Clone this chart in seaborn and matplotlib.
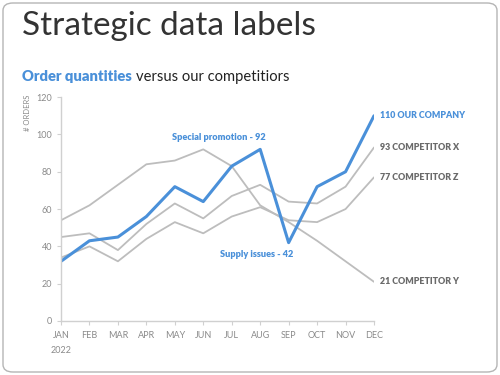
import pandas as pd
import matplotlib.pyplot as plt
import seaborn as sns
from matplotlib.patches import FancyBboxPatch

months = ["JAN", "FEB", "MAR", "APR", "MAY", "JUN", "JUL", "AUG", "SEP", "OCT", "NOV", "DEC"]
our_company = [32, 43, 45, 56, 72, 64, 83, 92, 42, 72, 80, 110]
competitor_x = [45, 47, 38, 52, 63, 55, 67, 73, 64, 63, 72, 93]
competitor_y = [54, 62, 73, 84, 86, 92, 83, 62, 53, 43, 32, 21]
competitor_z = [34, 40, 32, 44, 53, 47, 56, 61, 54, 53, 60, 77]
series_names = ["OUR COMPANY", "COMPETITOR X", "COMPETITOR Y", "COMPETITOR Z"]

BLUE = "#4a90d9"
GREY = "#bdbdbd"
LABEL_GREY = "#6a6a6a"

sns.set_style("white")
plt.rcParams["font.family"] = ["Lato", "DejaVu Sans"]

# long-form table for seaborn
rows = []
for name, vals in zip(series_names, [our_company, competitor_x, competitor_y, competitor_z]):
    for i, v in enumerate(vals):
        rows.append({"idx": i, "orders": v, "series": name})
df = pd.DataFrame(rows)

fig = plt.figure(figsize=(5, 3.75), dpi=100)
ax = fig.add_axes([0.122, 0.144, 0.626, 0.597])

# grey competitors first, blue on top
sns.lineplot(data=df[df.series != "OUR COMPANY"], x="idx", y="orders", hue="series",
             palette={n: GREY for n in series_names[1:]}, linewidth=1.3,
             legend=False, ax=ax)
sns.lineplot(data=df[df.series == "OUR COMPANY"], x="idx", y="orders",
             color=BLUE, linewidth=2.2, legend=False, ax=ax)

ax.set_xlim(0, 11)
ax.set_ylim(0, 120)
ax.set_yticks(range(0, 121, 20))
ax.set_xticks(range(12))
ax.set_xticklabels(months)
ax.set_xlabel("")
ax.set_ylabel("")
for s in ["top", "right"]:
    ax.spines[s].set_visible(False)
for s in ["left", "bottom"]:
    ax.spines[s].set_color("#d0d0d0")
    ax.spines[s].set_linewidth(1.0)
ax.tick_params(axis="both", colors="#d0d0d0", labelcolor="#8a8a8a", labelsize=6.5,
               length=3, width=0.8, direction="out", bottom=True, left=True)
ax.tick_params(axis="x", pad=4)
ax.set_facecolor("white")

# end-of-line labels
ends = [(our_company, "OUR COMPANY", BLUE), (competitor_x, "COMPETITOR X", LABEL_GREY),
        (competitor_z, "COMPETITOR Z", LABEL_GREY), (competitor_y, "COMPETITOR Y", LABEL_GREY)]
for vals, name, col in ends:
    ax.annotate(f"{vals[-1]} {name}", xy=(11, vals[-1]), xytext=(4, 0),
                textcoords="offset points", ha="left", va="center",
                fontsize=6.4, fontweight="heavy", color=col, annotation_clip=False)

# strategic callouts
ax.annotate("Special promotion - 92", xy=(7, our_company[7]), xytext=(4, 5),
            textcoords="offset points", ha="right", va="bottom",
            fontsize=6.6, fontweight="heavy", color=BLUE)
ax.annotate("Supply issues - 42", xy=(8, our_company[8]), xytext=(3, -5),
            textcoords="offset points", ha="right", va="top",
            fontsize=6.6, fontweight="heavy", color=BLUE)

ax.text(0, -0.11, "2022", transform=ax.transAxes, fontsize=6.5, color="#8a8a8a",
        ha="center", va="top")
fig.text(0.055, 0.70, "# ORDERS", rotation=90, fontsize=5.5, color="#8a8a8a",
         ha="center", va="center")

# titles
fig.text(0.045, 0.907, "Strategic data labels", fontsize=24, color="#333333",
         ha="left", va="baseline")
sub = fig.text(0.045, 0.785, "Order quantities", fontsize=10.6, color=BLUE,
               fontweight="heavy", ha="left", va="baseline")
fig.canvas.draw()
bb = sub.get_window_extent()
fig.text(bb.x1 / fig.bbox.width + 0.007, 0.785, "versus our competitiors", fontsize=10.6,
         color="#222222", ha="left", va="baseline")

# rounded card border
fig.patches.append(FancyBboxPatch((0.006, 0.008), 0.988, 0.984,
                                  boxstyle="round,pad=0,rounding_size=0.02",
                                  transform=fig.transFigure, facecolor="none",
                                  edgecolor="#b5b5b5", linewidth=1.0))

fig.savefig("out.png", dpi=100)
